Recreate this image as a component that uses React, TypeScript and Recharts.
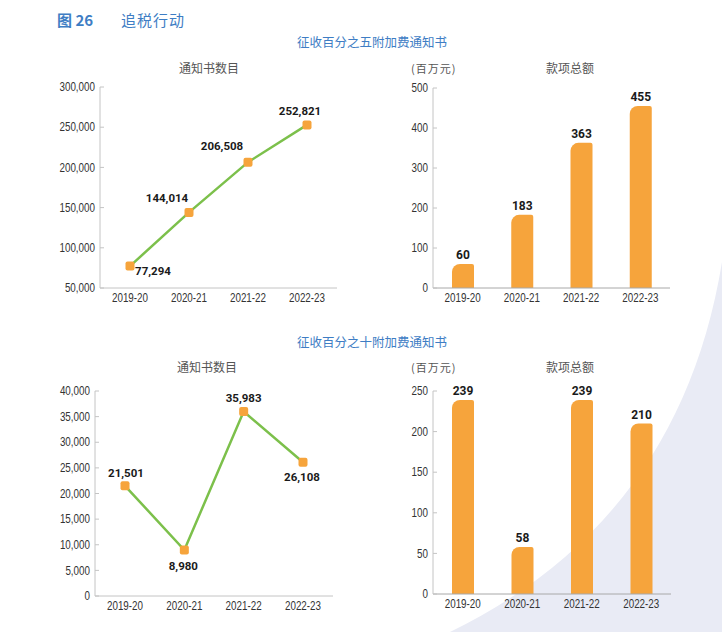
import { LineChart, Line, BarChart, Bar, XAxis, YAxis, LabelList } from 'recharts'

// data
const years = ['2019-20', '2020-21', '2021-22', '2022-23']
const notices5 = [77294, 144014, 206508, 252821]
const amount5 = [60, 183, 363, 455]
const notices10 = [21501, 8980, 35983, 26108]
const amount10 = [239, 58, 239, 210]

const ticksNotices5 = [50000, 100000, 150000, 200000, 250000, 300000]
const ticksAmount5 = [0, 100, 200, 300, 400, 500]
const ticksNotices10 = [0, 5000, 10000, 15000, 20000, 25000, 30000, 35000, 40000]
const ticksAmount10 = [0, 50, 100, 150, 200, 250]

// label placement relative to each point (dx, dy)
const labelPos5 = [[23, 5], [-22, -14], [-26, -16], [-7, -14]]
const labelPos10 = [[1, -13], [-1, 16], [0, -14], [-1, 15]]

const blue = '#3e7dc4'
const orange = '#f6a43c'
const green = '#7cc04b'
const cjk = "'Noto Sans CJK SC', 'Noto Sans', sans-serif"
const tickFont = "'Liberation Sans', Arial, sans-serif"
const labelFont = "Roboto, 'Noto Sans', sans-serif"

const toRows = (vals: number[]) => years.map((y, i) => ({ year: y, value: vals[i] }))
const fmt = (v: number) => v.toLocaleString('en-US')

// squeezed text to stand in for the condensed face of the original
const NarrowText = ({ x, y, anchor, children }: any) => (
  <text transform={`translate(${x},${y}) scale(0.82,1)`} dy="0.35em" textAnchor={anchor} fontFamily={tickFont} fontSize={12} fill="#333">
    {children}
  </text>
)

const YTick = (props: any) => {
  const { x, y, payload } = props
  return (
    <g>
      <line x1={x} x2={x + 4} y1={y} y2={y} stroke="#c4c4c4" />
      <NarrowText x={x - 5} y={y} anchor="end">{fmt(payload.value)}</NarrowText>
    </g>
  )
}

const XTick = (props: any) => {
  const { x, y, payload } = props
  return <NarrowText x={x} y={y + 10} anchor="middle">{payload.value}</NarrowText>
}

const SquareDot = (props: any) => {
  const { cx, cy, index } = props
  return <rect key={index} x={cx - 4.5} y={cy - 4.5} width={9} height={9} rx={2} fill={orange} />
}

const pointLabel = (pos: number[][]) => (props: any) => {
  const { x, y, value, index } = props
  const [dx, dy] = pos[index]
  return (
    <text x={x + dx} y={y + dy} dy="0.35em" textAnchor="middle" fontFamily={labelFont} fontWeight={700} fontSize={11.5} fill="#1a1a1a">
      {fmt(value)}
    </text>
  )
}

const barLabel = (props: any) => {
  const { x, y, width, value } = props
  return (
    <text x={x + width / 2} y={y - 9} dy="0.35em" textAnchor="middle" fontFamily={labelFont} fontWeight={700} fontSize={12} fill="#1a1a1a">
      {value}
    </text>
  )
}

function NoticeLine({ vals, ticks, domain, pos, width, height, margin, yWidth, xHeight }: any) {
  return (
    <LineChart width={width} height={height} data={toRows(vals)} margin={margin}>
      <XAxis dataKey="year" tick={<XTick />} tickLine={false} tickSize={0} tickMargin={0} height={xHeight}
        stroke="#c4c4c4" interval={0} padding={{ left: 30, right: 30 }} />
      <YAxis domain={domain} ticks={ticks} tick={<YTick />} tickLine={false} tickSize={0} tickMargin={0} width={yWidth} stroke="#c4c4c4" interval={0} />
      <Line dataKey="value" stroke={green} strokeWidth={2.5} dot={<SquareDot />} activeDot={false} isAnimationActive={false}>
        <LabelList dataKey="value" content={pointLabel(pos)} />
      </Line>
    </LineChart>
  )
}

function AmountBar({ vals, ticks, domain, width, height, margin, xHeight }: any) {
  return (
    <BarChart width={width} height={height} data={toRows(vals)} margin={margin}>
      <XAxis dataKey="year" tick={<XTick />} tickLine={false} tickSize={0} tickMargin={0} height={xHeight} stroke="#a8a8a8" interval={0} />
      <YAxis domain={domain} ticks={ticks} tick={<YTick />} tickLine={false} tickSize={0} tickMargin={0} width={33} stroke="#c4c4c4" interval={0} />
      <Bar dataKey="value" fill={orange} barSize={22} radius={[8, 2, 0, 0]} isAnimationActive={false}>
        <LabelList dataKey="value" content={barLabel} />
      </Bar>
    </BarChart>
  )
}

const Title = ({ x, y, children, anchor = 'middle', size = 12, color = '#555', weight = 400, spacing = 0 }: any) => (
  <text x={x} y={y} dy="0.35em" textAnchor={anchor} fontFamily={cjk} fontSize={size} fill={color} fontWeight={weight} letterSpacing={spacing}>
    {children}
  </text>
)

export default function App() {
  return (
    <div style={{ position: 'absolute', left: 0, top: 0, width: 722, height: 632, background: '#fff', overflow: 'hidden' }}>
      <svg width={722} height={632} style={{ position: 'absolute', left: 0, top: 0 }}>
        <path d="M 722 262 Q 680 520 450 632 L 722 632 Z" fill="#e9ebf5" />
        <Title x={57} y={21} anchor="start" size={15} color={blue} weight={700}>图 26</Title>
        <Title x={121} y={21} anchor="start" size={15} color={blue} spacing={1}>追税行动</Title>
        <Title x={372} y={43} size={12.5} color={blue}>征收百分之五附加费通知书</Title>
        <Title x={209} y={69}>通知书数目</Title>
        <Title x={411} y={69} anchor="start" size={11} spacing={1}>(百万元)</Title>
        <Title x={570} y={69}>款项总额</Title>
        <Title x={372} y={343} size={12.5} color={blue}>征收百分之十附加费通知书</Title>
        <Title x={207} y={368}>通知书数目</Title>
        <Title x={411} y={368} anchor="start" size={11} spacing={1}>(百万元)</Title>
        <Title x={570} y={368}>款项总额</Title>
      </svg>
      <div style={{ position: 'absolute', left: 40, top: 80 }}>
        <NoticeLine vals={notices5} ticks={ticksNotices5} domain={[50000, 300000]} pos={labelPos5}
          width={310} height={230} margin={{ top: 7, right: 13, bottom: 0, left: 0 }} yWidth={60} xHeight={22} />
      </div>
      <div style={{ position: 'absolute', left: 400, top: 60 }}>
        <AmountBar vals={amount5} ticks={ticksAmount5} domain={[0, 500]}
          width={300} height={250} margin={{ top: 28, right: 30, bottom: 0, left: 0 }} xHeight={22} />
      </div>
      <div style={{ position: 'absolute', left: 40, top: 380 }}>
        <NoticeLine vals={notices10} ticks={ticksNotices10} domain={[0, 40000]} pos={labelPos10}
          width={310} height={240} margin={{ top: 11, right: 17, bottom: 0, left: 0 }} yWidth={55} xHeight={24} />
      </div>
      <div style={{ position: 'absolute', left: 400, top: 380 }}>
        <AmountBar vals={amount10} ticks={ticksAmount10} domain={[0, 250]}
          width={300} height={240} margin={{ top: 11, right: 29, bottom: 0, left: 0 }} xHeight={26} />
      </div>
    </div>
  )
}
